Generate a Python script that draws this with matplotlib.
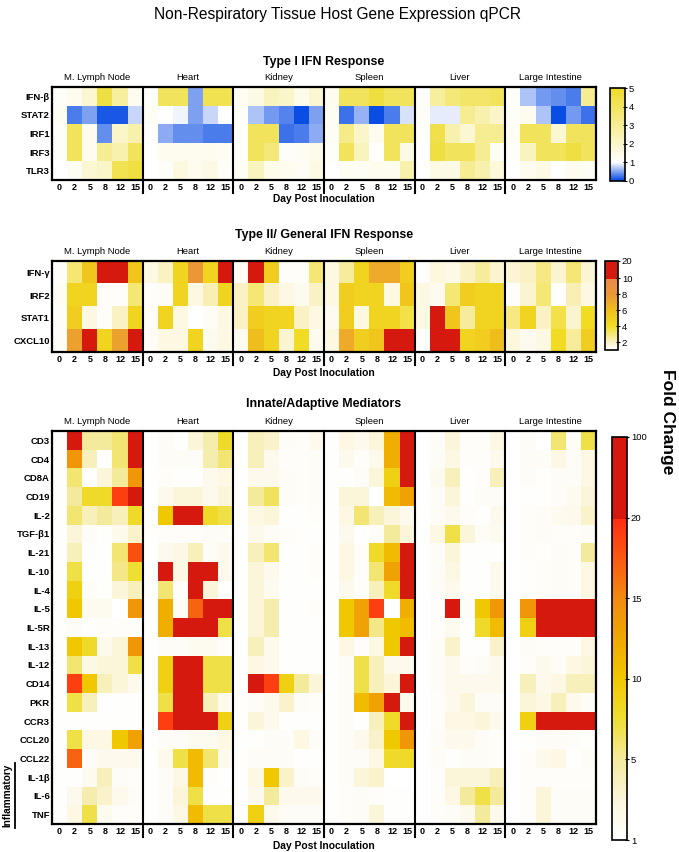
import numpy as np
import matplotlib
matplotlib.use("Agg")
import matplotlib.pyplot as plt
from matplotlib.colors import LinearSegmentedColormap, Normalize
from matplotlib.cm import ScalarMappable

# ---------------- data ----------------
tissues = ["M. Lymph Node", "Heart", "Kidney", "Spleen", "Liver", "Large Intestine"]
days = ["0", "2", "5", "8", "12", "15"]

genes1 = ["IFN-β", "STAT2", "IRF1", "IRF3", "TLR3"]
genes2 = ["IFN-γ", "IRF2", "STAT1", "CXCL10"]
genes3 = ["CD3", "CD4", "CD8A", "CD19", "IL-2", "TGF-β1", "IL-21", "IL-10", "IL-4",
          "IL-5", "IL-5R", "IL-13", "IL-12", "CD14", "PKR", "CCR3", "CCL20", "CCL22",
          "IL-1β", "IL-6", "TNF"]

# Type I IFN response (fold change, rows = genes1, cols = days)
t1_lymph = [[1.1, 1.3, 1.8, 4.5, 2.8, 1.3],
            [1.2, 0.3, 0.5, 0.1, 0.1, 0.8],
            [1.1, 4.0, 1.3, 0.4, 2.0, 2.5],
            [1.1, 4.0, 1.3, 3.0, 2.5, 4.0],
            [1.0, 1.2, 1.8, 2.0, 4.2, 4.5]]
t1_heart = [[1.1, 4.0, 4.0, 0.5, 4.2, 4.2],
            [1.2, 1.0, 0.95, 0.5, 0.8, 1.0],
            [1.0, 0.55, 0.4, 0.4, 0.3, 0.3],
            [1.0, 1.3, 1.3, 1.3, 1.3, 1.2],
            [1.0, 1.1, 1.6, 1.3, 1.5, 1.1]]
t1_kidney = [[1.2, 1.5, 2.2, 2.0, 1.4, 1.8],
             [1.1, 0.7, 0.45, 0.35, 0.05, 0.5],
             [1.1, 4.0, 4.0, 0.25, 0.3, 0.55],
             [1.1, 4.0, 3.5, 1.1, 1.2, 1.4],
             [1.2, 2.2, 1.4, 1.3, 1.2, 1.5]]
t1_spleen = [[1.3, 4.0, 4.0, 4.6, 4.0, 4.0],
             [1.2, 0.25, 0.6, 0.05, 0.3, 0.85],
             [1.2, 3.2, 2.0, 1.3, 4.0, 4.0],
             [1.1, 4.0, 2.2, 1.0, 4.0, 1.5],
             [1.0, 1.2, 1.2, 1.3, 1.3, 2.5]]
t1_liver = [[1.1, 2.8, 3.5, 3.8, 3.8, 4.0],
            [1.1, 0.9, 0.9, 3.0, 2.5, 2.0],
            [1.1, 4.3, 2.5, 1.8, 3.0, 3.0],
            [1.0, 4.5, 4.0, 4.0, 3.0, 1.2],
            [1.0, 1.5, 1.5, 3.0, 2.5, 1.7]]
t1_li = [[1.1, 0.7, 0.45, 0.4, 0.3, 3.0],
         [1.1, 1.3, 0.7, 0.05, 0.45, 0.25],
         [1.2, 4.0, 4.0, 1.8, 4.0, 4.0],
         [1.1, 2.2, 4.0, 4.0, 4.5, 4.0],
         [1.0, 1.3, 1.5, 1.0, 1.3, 1.2]]

# Type II / general IFN response
t2_lymph = [[1.1, 3.0, 5.5, 15, 15, 5.5],
            [1.2, 4.5, 4.5, 1.1, 1.1, 3.0],
            [1.1, 5.0, 1.5, 1.1, 2.0, 4.5],
            [1.1, 7.5, 15, 4.5, 7.5, 15]]
t2_heart = [[1.5, 2.0, 4.5, 8.0, 4.5, 15],
            [1.1, 1.2, 4.5, 1.5, 2.2, 4.5],
            [1.2, 4.5, 1.5, 1.0, 1.2, 1.5],
            [1.2, 1.5, 1.5, 4.5, 1.3, 1.5]]
t2_kidney = [[1.2, 15, 5.0, 1.1, 1.1, 3.0],
             [2.0, 3.0, 2.0, 1.5, 1.3, 2.0],
             [2.0, 5.0, 4.5, 4.5, 2.0, 1.5],
             [1.3, 6.0, 4.5, 1.8, 4.0, 1.3]]
t2_spleen = [[1.5, 2.5, 4.5, 7.0, 7.0, 5.0],
             [1.5, 5.0, 4.5, 4.5, 1.5, 5.5],
             [1.3, 5.0, 1.5, 4.5, 4.5, 3.5],
             [1.5, 7.0, 5.0, 5.5, 15, 15]]
t2_liver = [[1.1, 1.6, 1.4, 2.0, 2.5, 1.8],
            [1.5, 1.3, 3.0, 5.0, 4.5, 4.5],
            [1.5, 15, 5.5, 2.5, 4.5, 4.5],
            [1.1, 15, 15, 4.5, 5.0, 6.0]]
t2_li = [[1.7, 2.0, 2.8, 1.8, 3.0, 1.7],
         [1.1, 1.8, 3.0, 1.05, 2.2, 1.5],
         [2.8, 4.5, 2.0, 3.5, 1.8, 4.0],
         [1.6, 1.3, 1.5, 4.0, 2.5, 5.0]]

# Innate / adaptive mediators
t3_lymph = [[1.1, 25, 5, 5, 6, 25],
            [1.1, 14, 4, 1, 6, 25],
            [1.1, 6, 1.2, 3, 5, 14],
            [1.1, 5, 8, 8, 19, 25],
            [1.1, 6, 4, 5, 4, 8],
            [1.1, 3, 1.5, 1.2, 2, 3.5],
            [1.1, 4, 1.2, 1.2, 6, 18],
            [1.1, 7, 1.2, 1.2, 5.5, 7.5],
            [1.1, 9, 1.5, 1.2, 3, 4],
            [1.1, 10, 1.8, 1.8, 1.0, 14],
            [1.1, 1.5, 1.2, 1.3, 1.3, 1.3],
            [1.1, 10, 8, 2, 3, 14],
            [1.1, 6, 2.5, 3, 3, 7],
            [1.1, 19, 10, 4, 3, 2],
            [1.1, 7, 4, 1.2, 1.2, 1.1],
            [1.1, 1.1, 1.1, 1.1, 1.2, 1.2],
            [1.1, 7, 2.5, 2.5, 10, 13],
            [1.1, 17, 1.5, 2, 2, 2],
            [1.1, 1.2, 1.8, 4, 1.5, 1.3],
            [1.1, 2, 4.5, 3.5, 2, 1.5],
            [1.1, 2.5, 7, 1.8, 1.3, 1.3]]
t3_heart = [[1.1, 1.5, 1.1, 3, 4.5, 8],
            [1.1, 1.5, 1.5, 1.5, 4.5, 6],
            [1.1, 1.4, 1.2, 1.2, 2, 2.5],
            [1.2, 2, 3, 3, 2, 3],
            [1.1, 10, 25, 25, 8, 7],
            [1.1, 1.3, 1.3, 1.3, 1.5, 1.5],
            [1.1, 2, 2.5, 4, 1.5, 2],
            [1.1, 25, 2.5, 25, 25, 2],
            [1.1, 6, 1.3, 25, 3, 1.1],
            [1.1, 12, 1.5, 17, 25, 25],
            [1.1, 12, 25, 25, 25, 7],
            [1.1, 1.5, 1.5, 1.8, 1.8, 1.3],
            [1.1, 9, 25, 25, 7, 7],
            [1.1, 9, 25, 25, 7, 7],
            [1.1, 7, 25, 25, 4, 2],
            [1.1, 19, 25, 25, 25, 9],
            [1.1, 1.5, 1.5, 1.8, 1.8, 2.5],
            [1.1, 2, 7, 11, 6, 2],
            [1.1, 1.5, 2.5, 11, 1.3, 1.0],
            [1.1, 1.5, 3, 7, 1.2, 1.2],
            [1.1, 1.5, 2.5, 11, 7, 7]]
t3_kidney = [[1.1, 4, 3.5, 1.5, 1.3, 2],
             [1.1, 4, 2, 1.3, 1.3, 1.5],
             [1.1, 2, 2, 1.5, 1.3, 1.5],
             [1.2, 5, 6.5, 1.5, 1.3, 1.5],
             [1.2, 2.5, 3, 1.2, 1.2, 1.3],
             [1.1, 2, 1.5, 1.3, 1.2, 1.2],
             [1.2, 4, 6, 1.2, 1.2, 1.3],
             [1.2, 3, 2, 1.2, 1.2, 1.3],
             [1.2, 3, 1.8, 1.2, 1.2, 1.2],
             [1.2, 3, 4.5, 1.2, 1.2, 1.3],
             [1.2, 3, 4.5, 1.2, 1.2, 1.2],
             [1.2, 4, 2, 1.2, 1.2, 1.2],
             [1.2, 2.5, 2, 1.2, 1.2, 1.2],
             [1.2, 25, 19, 9, 5, 3],
             [1.1, 1.5, 2, 3.5, 1.5, 1.3],
             [1.1, 3, 2, 1.1, 1.1, 1.1],
             [1.1, 1.2, 1.5, 1.5, 2.5, 1.5],
             [1.1, 1.5, 1.5, 1.5, 1.2, 1.2],
             [1.1, 2.5, 10, 3.5, 1.5, 1.3],
             [1.1, 2, 5, 2, 2, 2],
             [1.1, 9, 2, 1.5, 1.5, 1.5]]
t3_spleen = [[1.1, 2.5, 2, 3, 12, 25],
             [1.1, 2, 1.3, 2, 12, 20],
             [1.1, 1.1, 1.5, 3, 9, 25],
             [1.1, 3, 3, 1.0, 11, 13],
             [1.1, 2.5, 6, 4, 3, 2],
             [1.1, 2, 1.0, 1.5, 5, 3],
             [1.1, 2.5, 1.3, 8, 11, 25],
             [1.1, 2.5, 1.3, 6, 13, 20],
             [1.1, 2, 1.3, 4, 8, 25],
             [1.1, 10, 13, 19, 1.0, 12],
             [1.1, 10, 13, 5.5, 10, 11],
             [1.1, 2.5, 1.3, 2.5, 10, 25],
             [1.1, 1.5, 7, 4, 2, 2],
             [1.1, 1.5, 7, 4, 3, 25],
             [1.1, 1.5, 11, 13, 20, 2],
             [1.1, 1.5, 1.1, 4, 8, 25],
             [1.1, 1.5, 2, 3.5, 10, 14],
             [1.1, 1.5, 1.5, 2.5, 8, 8],
             [1.1, 1.5, 3, 3.5, 1.0, 1.0],
             [1.1, 1.3, 1.5, 1.3, 1.1, 1.1],
             [1.1, 1.3, 1.5, 3, 1.1, 1.2]]
t3_liver = [[1.0, 1.5, 3, 1.3, 1.3, 2.5],
            [1.0, 1.5, 2.5, 1.3, 1.3, 2],
            [1.0, 1.8, 4, 1.2, 1.3, 4],
            [1.0, 1.5, 3, 1.2, 1.5, 1.5],
            [1.1, 1.5, 2, 1.3, 1.2, 2],
            [1.1, 2.5, 7, 3, 1.5, 1.8],
            [1.0, 1.5, 3, 1.2, 1.2, 1.1],
            [1.0, 1.5, 2.5, 1.2, 1.2, 2],
            [1.0, 1.5, 2, 1.2, 1.2, 2],
            [1.0, 1.3, 25, 1.5, 10, 14],
            [1.0, 1.3, 1.8, 1.2, 8, 11],
            [1.0, 1.5, 3.5, 1.2, 1.2, 3.5],
            [1.0, 1.5, 2, 1.3, 1.5, 2],
            [1.0, 1.5, 2, 2, 2, 2],
            [1.0, 1.3, 2, 3, 1.5, 1.5],
            [1.0, 1.3, 2.5, 2.5, 3, 2],
            [1.0, 1.5, 2, 2, 1.5, 1.3],
            [1.0, 1.5, 1.2, 1.5, 1.5, 1.3],
            [1.0, 1.3, 3, 3, 3, 4],
            [1.0, 1.3, 2.5, 5, 7, 5],
            [1.0, 1.3, 1.5, 2, 5, 2]]
t3_li = [[1.0, 1.5, 1.0, 6, 1.5, 7],
         [1.0, 1.5, 1.5, 2.5, 1.5, 2.5],
         [1.0, 1.5, 1.2, 1.5, 1.5, 2.5],
         [1.0, 1.2, 1.2, 1.5, 1.8, 3],
         [1.0, 1.3, 1.5, 1.8, 2, 3.5],
         [1.0, 1.3, 1.5, 1.3, 1.3, 1.5],
         [1.0, 1.3, 1.2, 1.5, 1.3, 5],
         [1.0, 1.2, 1.3, 1.5, 1.3, 2.5],
         [1.0, 1.2, 1.3, 1.5, 1.3, 2.5],
         [1.0, 14, 25, 25, 25, 25],
         [1.0, 9, 25, 25, 25, 25],
         [1.0, 1.5, 1.3, 1.3, 1.3, 2.5],
         [1.0, 1.3, 2, 1.5, 2.5, 3],
         [1.0, 4, 2, 2.5, 4, 4],
         [1.0, 3, 2.5, 4, 2, 1.5],
         [1.0, 9, 25, 25, 25, 25],
         [1.0, 1.2, 1.5, 1.5, 1.3, 1.2],
         [1.0, 1.3, 2, 2.5, 1.1, 1.5],
         [1.0, 1.3, 1.3, 1.3, 1.3, 1.3],
         [1.0, 1.3, 3, 1.5, 1.5, 1.5],
         [1.0, 1.3, 3, 1.5, 1.5, 1.5]]

# colour-scale tick values
cb1_ticks = [0, 1, 2, 3, 4, 5]
cb2_ticks = [2, 4, 6, 8, 10, 20]
cb3_ticks = [1, 5, 10, 15, 20, 100]

# ---------------- styling ----------------
plt.rcParams['font.family'] = ['Liberation Sans', 'DejaVu Sans']
W, H = 679, 852
fig = plt.figure(figsize=(W / 100, H / 100), dpi=100)

X0, X1 = 52, 596


def px_axes(x0, y0, x1, y1):
    return fig.add_axes([x0 / W, 1 - y1 / H, (x1 - x0) / W, (y1 - y0) / H])


def ftext(x, y, s, **kw):
    kw.setdefault('ha', 'center')
    kw.setdefault('va', 'center')
    fig.text(x / W, 1 - y / H, s, **kw)


# colormaps (built in "position" space)
cmap1 = LinearSegmentedColormap.from_list(
    "t1", [(0.0, "#0046E4"), (0.2, "#FFFFFF"), (1.0, "#EEDB28")])
norm1 = Normalize(0, 5)

pos2_vals = [1, 2, 4, 6, 8, 10, 20]
pos2_pos = [0, 0.5, 1.5, 2.5, 3.5, 4.5, 5.6]
P2 = 5.6
cmap2 = LinearSegmentedColormap.from_list(
    "t2", [(0.0, "#FFFFFF"), (0.5 / P2, "#FAF2C4"), (1.5 / P2, "#F1DC22"),
           (2.5 / P2, "#F0BF1C"), (3.5 / P2, "#EC9836"), (4.499 / P2, "#EB8848"),
           (4.5 / P2, "#D6190F"), (1.0, "#D6190F")])
norm2 = Normalize(0, P2)

pos3_vals = [1, 5, 10, 15, 20, 100]
pos3_pos = [0, 1, 2, 3, 4, 5]
cmap3 = LinearSegmentedColormap.from_list(
    "t3", [(0.0, "#FFFFFF"), (0.1, "#FBF6DA"), (0.2, "#F4EA9C"), (0.3, "#EFDE32"),
           (0.4, "#F0C800"), (0.5, "#F0A800"), (0.6, "#F28A10"), (0.799, "#FF2C12"),
           (0.8, "#D6190F"), (1.0, "#D6190F")])
norm3 = Normalize(0, 5)


def draw_panel(blocks, genes, top, bottom, cmap, norm, tf, title, title_y, lab_y, xl_y):
    data = np.hstack([np.asarray(b, float) for b in blocks])
    pos = tf(data)
    n = len(genes)
    ax = px_axes(X0, top, X1, bottom)
    ax.imshow(pos, cmap=cmap, norm=norm, aspect='auto', interpolation='nearest',
              extent=(0, 36, n, 0))
    ax.set_xlim(0, 36)
    ax.set_ylim(n, 0)
    ax.set_yticks(np.arange(n) + 0.5)
    ax.set_yticklabels(genes, fontweight='bold', fontsize=6.8)
    ax.set_xticks(np.arange(36) + 0.5)
    ax.set_xticklabels(days * 6, fontweight='bold', fontsize=6.5)
    ax.tick_params(axis='both', length=0, pad=1.5)
    ax.tick_params(axis='x', pad=2.5)
    for s in ax.spines.values():
        s.set_linewidth(1.6)
    ext = 13.0 / (bottom - top)
    for k in range(1, 6):
        ax.axvline(6 * k, ymin=-ext, ymax=1, color='k', lw=1.5, clip_on=False)
    gw = (X1 - X0) / 6
    for k, t in enumerate(tissues):
        ftext(X0 + (k + 0.5) * gw, lab_y, t, fontsize=6.8)
    ftext((X0 + X1) / 2, title_y, title, fontsize=8.9, fontweight='bold')
    ftext((X0 + X1) / 2, xl_y, "Day Post Inoculation", fontsize=7.4, fontweight='bold')
    return ax


draw_panel([t1_lymph, t1_heart, t1_kidney, t1_spleen, t1_liver, t1_li], genes1,
           87, 180, cmap1, norm1, lambda d: d,
           "Type I IFN Response", 62, 78, 199)
draw_panel([t2_lymph, t2_heart, t2_kidney, t2_spleen, t2_liver, t2_li], genes2,
           261, 352, cmap2, norm2, lambda d: np.interp(d, pos2_vals, pos2_pos),
           "Type II/ General IFN Response", 235, 252, 373)
draw_panel([t3_lymph, t3_heart, t3_kidney, t3_spleen, t3_liver, t3_li], genes3,
           431, 824, cmap3, norm3, lambda d: np.interp(d, pos3_vals, pos3_pos),
           "Innate/Adaptive Mediators", 404, 422, 846)

# colorbars
def cbar(x0, y0, x1, y1, cmap, norm, ticks, labels):
    cax = px_axes(x0, y0, x1, y1)
    cb = fig.colorbar(ScalarMappable(norm=norm, cmap=cmap), cax=cax)
    cb.set_ticks(ticks)
    cb.set_ticklabels(labels)
    cb.outline.set_linewidth(1.2)
    cax.tick_params(labelsize=6.8, length=2.5, width=0.8, pad=1.5, direction='inout')
    return cb

cbar(610, 88, 625, 181, cmap1, norm1, cb1_ticks, [str(v) for v in cb1_ticks])
cbar(605, 261, 618, 350, cmap2, norm2,
     list(np.interp(cb2_ticks, pos2_vals, pos2_pos)), [str(v) for v in cb2_ticks])
cbar(612, 437, 627, 840, cmap3, norm3,
     list(np.interp(cb3_ticks, pos3_vals, pos3_pos)), [str(v) for v in cb3_ticks])

# texts
ftext(337, 15, "Non-Respiratory Tissue Host Gene Expression qPCR", fontsize=11.2)
ftext(668, 422, "Fold Change", fontsize=12.5, fontweight='bold', rotation=270)
ftext(7, 795, "Inflammatory", fontsize=7.3, fontweight='bold', rotation=90)
fig.add_artist(plt.Line2D([15 / W, 15 / W], [1 - 763 / H, 1 - 828 / H],
                          color='k', lw=1.3))

fig.savefig("out.png", dpi=100)
